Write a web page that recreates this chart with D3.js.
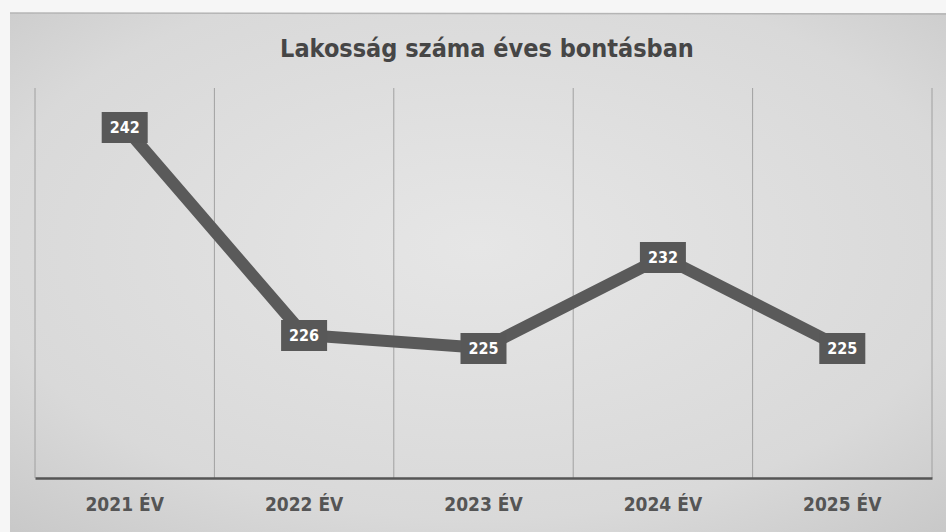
<!DOCTYPE html>
<html>
<head>
<meta charset="utf-8">
<script src="https://cdn.jsdelivr.net/npm/d3@7"></script>
<style>
  html, body { margin: 0; padding: 0; background: #f4f4f4; }
  svg { display: block; }
</style>
</head>
<body>
<div id="chart"></div>
<script>
// --- Data ---
const years = ["2021 ÉV", "2022 ÉV", "2023 ÉV", "2024 ÉV", "2025 ÉV"];
const population = [242, 226, 225, 232, 225];
const titleText = "Lakosság száma éves bontásban";

// --- Layout ---
const W = 946, H = 532;
const margin = { top: 88, right: 14, bottom: 54, left: 35 };
const fontStack = "'DejaVu Sans Condensed', 'DejaVu Sans', sans-serif";

const svg = d3.select("#chart").append("svg")
  .attr("width", W)
  .attr("height", H);

// soft grey "scanned page" look
const defs = svg.append("defs");
const grad = defs.append("radialGradient")
  .attr("id", "bg")
  .attr("cx", "50%").attr("cy", "45%").attr("r", "75%");
grad.append("stop").attr("offset", "0%").attr("stop-color", "#e6e6e6");
grad.append("stop").attr("offset", "70%").attr("stop-color", "#d9d9d9");
grad.append("stop").attr("offset", "100%").attr("stop-color", "#c8c8c8");

svg.append("rect")
  .attr("x", 0).attr("y", 0).attr("width", W).attr("height", H)
  .attr("fill", "#f6f6f6");
svg.append("rect")
  .attr("x", 10).attr("y", 13).attr("width", W - 10).attr("height", H - 13)
  .attr("fill", "url(#bg)");
svg.append("line")
  .attr("x1", 10).attr("x2", W).attr("y1", 13).attr("y2", 14)
  .attr("stroke", "#b5b5b5").attr("stroke-width", 1.5);

// --- Scales ---
const x = d3.scaleBand()
  .domain(years)
  .range([margin.left, W - margin.right]);

const y = d3.scaleLinear()
  .domain([215, 245])
  .range([H - margin.bottom, margin.top]);

// Vertical gridlines at category boundaries
const bounds = years.map(d => x(d)).concat([x(years[years.length - 1]) + x.bandwidth()]);
svg.append("g").attr("class", "grid")
  .selectAll("line")
  .data(bounds)
  .enter().append("line")
  .attr("x1", d => d).attr("x2", d => d)
  .attr("y1", margin.top).attr("y2", H - margin.bottom)
  .attr("stroke", "#a0a0a0")
  .attr("stroke-width", 1);

// X axis
const xAxis = svg.append("g")
  .attr("transform", `translate(0,${H - margin.bottom})`)
  .call(d3.axisBottom(x).tickSize(0).tickPadding(20));
xAxis.select(".domain")
  .attr("stroke", "#555")
  .attr("stroke-width", 2.5);
xAxis.selectAll("text")
  .attr("font-family", fontStack)
  .attr("font-weight", "bold")
  .attr("font-size", 19)
  .attr("fill", "#555");

// Title
svg.append("text")
  .attr("x", 487)
  .attr("y", 57)
  .attr("text-anchor", "middle")
  .attr("font-family", fontStack)
  .attr("font-weight", "bold")
  .attr("font-size", 25)
  .attr("fill", "#464646")
  .text(titleText);

// Line
const pts = years.map((d, i) => ({ year: d, value: population[i] }));
const line = d3.line()
  .x(d => x(d.year) + x.bandwidth() / 2)
  .y(d => y(d.value));

svg.append("path")
  .datum(pts)
  .attr("fill", "none")
  .attr("stroke", "#5a5a5a")
  .attr("stroke-width", 12)
  .attr("stroke-linejoin", "round")
  .attr("d", line);

// Markers + data labels
const lbl = svg.append("g").attr("class", "labels")
  .selectAll("g")
  .data(pts)
  .enter().append("g")
  .attr("transform", d => `translate(${x(d.year) + x.bandwidth() / 2},${y(d.value)})`);

lbl.append("circle")
  .attr("r", 15)
  .attr("fill", "#585858");

lbl.append("rect")
  .attr("x", -23).attr("y", -15)
  .attr("width", 46).attr("height", 31)
  .attr("fill", "#585858");

lbl.append("text")
  .attr("text-anchor", "middle")
  .attr("dy", "0.35em")
  .attr("font-family", fontStack)
  .attr("font-weight", "bold")
  .attr("font-size", 16)
  .attr("fill", "#ffffff")
  .text(d => d.value);
</script>
</body>
</html>
